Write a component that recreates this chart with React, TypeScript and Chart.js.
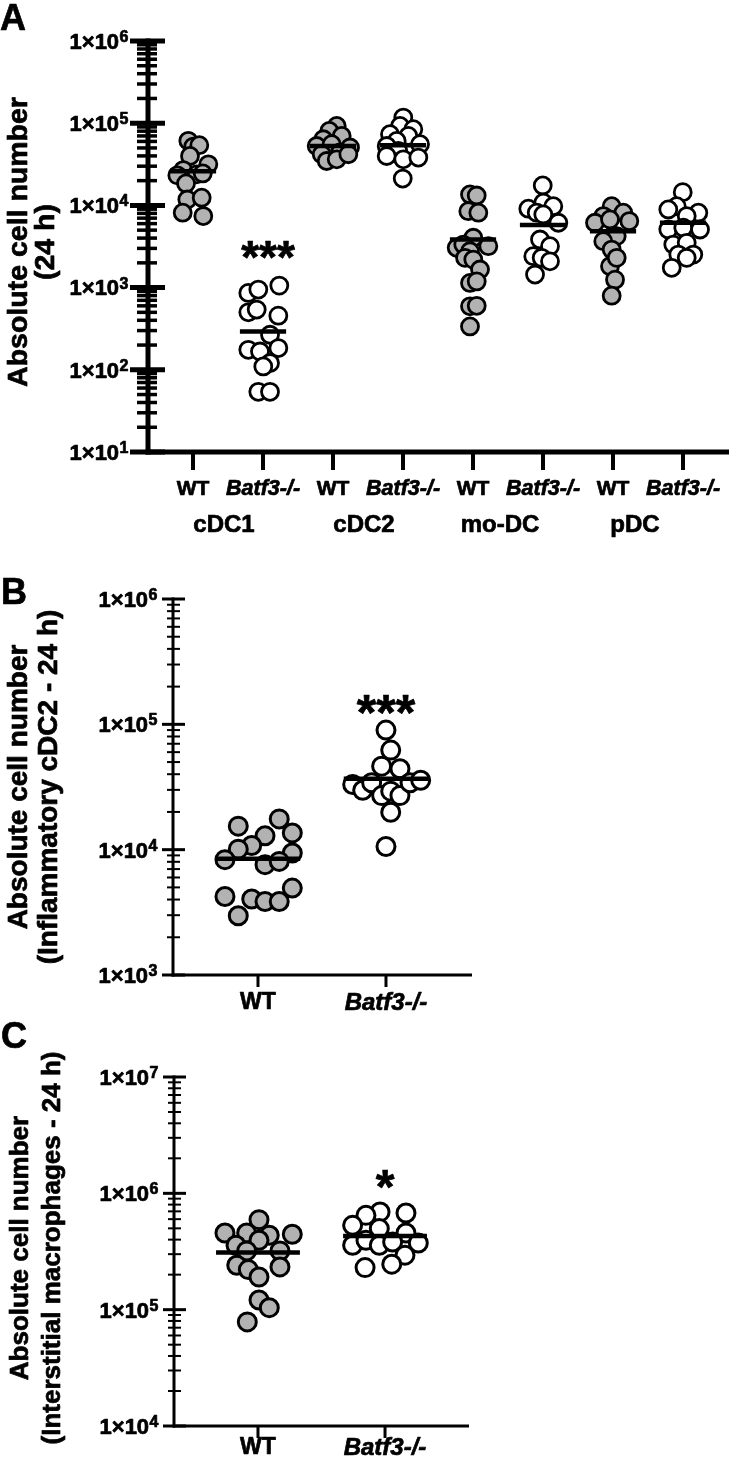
import React, { useEffect, useRef } from "react";
import { Chart, registerables } from "chart.js";
Chart.register(...registerables);

// ================= DATA =================
// Panel A
const A_CATEGORIES = ["WT", "Batf3-/-", "WT", "Batf3-/-", "WT", "Batf3-/-", "WT", "Batf3-/-"];
const A_GROUPS = ["cDC1", "cDC2", "mo-DC", "pDC"];
const A_Y_EXPONENTS = [1, 2, 3, 4, 5, 6];
const A_SIGNIFICANCE = ["", "***", "", "", "", "", "", ""];

const A_CDC1_WT = [61000, 52000, 54000, 40000, 31600, 26900, 23200, 23900, 24500, 18500, 11800, 12400, 8150, 7420];
const A_CDC1_WT_JITTER = [-0.067, 0.004, 0.09, -0.043, 0.219, -0.139, -0.224, 0.053, 0.139, -0.1, -0.081, 0.124, -0.147, 0.147];
const A_CDC1_KO = [861, 946, 1057, 500, 540, 456, 267, 175, 184, 167, 121, 110, 54, 54];
const A_CDC1_KO_JITTER = [-0.21, -0.067, 0.233, -0.21, -0.09, 0.219, 0.1, -0.21, 0.219, -0.043, 0.1, 0.004, -0.067, 0.1];
const A_CDC2_WT = [92700, 80500, 63800, 70000, 52800, 50600, 55500, 41900, 44000, 34700, 36400, 41900];
const A_CDC2_WT_JITTER = [0.053, -0.053, -0.139, 0.124, -0.233, 0.243, -0.019, -0.161, 0.1, -0.09, 0.053, 0.219];
const A_CDC2_KO = [117000, 92700, 84500, 73500, 70000, 60800, 52800, 55500, 45900, 39900, 36400, 38200, 21200];
const A_CDC2_KO_JITTER = [0.004, -0.043, 0.147, -0.186, 0.076, -0.09, -0.233, 0.243, -0.067, -0.233, 0.004, 0.219, -0.004];
const A_MODC_WT = [13600, 13200, 8500, 8150, 4040, 3050, 3340, 3190, 2770, 2300, 2190, 1660, 1140, 1190, 592, 600, 337];
const A_MODC_WT_JITTER = [-0.043, 0.053, -0.067, 0.076, 0.004, -0.233, -0.139, 0.219, -0.043, -0.114, 0.004, 0.1, -0.043, 0.053, -0.043, 0.053, -0.043];
const A_MODC_KO = [17500, 9120, 10800, 9790, 8150, 7760, 6150, 3850, 3190, 2410, 2300, 2090, 1440];
const A_MODC_KO_JITTER = [-0.004, -0.21, 0.004, 0.147, -0.09, 0.004, 0.219, -0.043, 0.1, -0.139, -0.019, 0.1, -0.114];
const A_PDC_WT = [9790, 8150, 7420, 6440, 6150, 6750, 4230, 3670, 2900, 1820, 1250, 798, 2300];
const A_PDC_WT_JITTER = [-0.019, 0.147, -0.139, 0.233, -0.257, -0.043, 0.053, -0.139, -0.019, -0.043, 0.029, -0.019, 0.053];
const A_PDC_KO = [14500, 9790, 8930, 8150, 7420, 5090, 5350, 5090, 3340, 3510, 2520, 2520, 2300, 1740];
const A_PDC_KO_JITTER = [-0.004, -0.09, -0.21, 0.219, 0.053, -0.21, 0.004, 0.243, -0.139, 0.053, -0.067, 0.147, 0.053, -0.161];
const A_MEDIANS = [26000, 293, 52800, 54000, 3850, 5760, 4860, 6150];

// Panel B
const B_CATEGORIES = ["WT", "Batf3-/-"];
const B_Y_EXPONENTS = [3, 4, 5, 6];
const B_SIGNIFICANCE = ["", "***"];
const B_WT = [15400, 17600, 13600, 12900, 10800, 10100, 9410, 8320, 7590, 8060, 4230, 4040, 3860, 3860, 4940, 2970];
const B_WT_JITTER = [-0.154, 0.166, 0.268, 0.055, -0.049, -0.154, 0.268, -0.258, 0.055, 0.166, -0.258, -0.049, 0.055, 0.166, 0.268, -0.154];
const B_KO = [90000, 62300, 46400, 44200, 33100, 29800, 34200, 27000, 29300, 27000, 34200, 35800, 19900, 10600];
const B_KO_JITTER = [0, 0.037, -0.034, 0.109, -0.26, -0.182, -0.112, -0.034, 0.037, 0.109, 0.188, 0.271, 0.037, 0];
const B_MEDIANS = [8470, 36800];

// Panel C
const C_CATEGORIES = ["WT", "Batf3-/-"];
const C_Y_EXPONENTS = [4, 5, 6, 7];
const C_SIGNIFICANCE = ["", "*"];
const C_WT = [594000, 456000, 456000, 436000, 445000, 358000, 395000, 320000, 320000, 241000, 233000, 221000, 191000, 121000, 104000, 78500];
const C_WT_JITTER = [0.008, -0.26, -0.089, 0.089, 0.27, -0.173, 0.008, -0.089, 0.173, -0.167, 0.173, -0.076, 0.008, 0.008, 0.089, -0.084];
const C_KO = [692000, 647000, 678000, 531000, 498000, 456000, 358000, 395000, 358000, 382000, 374000, 294000, 246000, 230000];
const C_KO_JITTER = [-0.039, -0.15, 0.165, -0.255, -0.045, 0.165, -0.255, -0.15, -0.045, 0.06, 0.262, 0.157, 0.053, -0.157];
const C_MEDIANS = [310000, 430000];

// ================= STYLE / LAYOUT =================
const FONT = '"Liberation Sans", Arial, Helvetica, sans-serif';
const GRAY = "#b2b2b2";
const WHITE = "#ffffff";
const MEDIAN_HALF = 0.33;
const TEXT_STROKE = 0.7;

type Spec = {
  id: string;
  top: number;
  height: number;
  area: { left: number; right: number; top: number; bottom: number };
  xMin: number;
  xMax: number;
  yMin: number;
  yMax: number;
  exps: number[];
  categories: string[];
  series: { values: number[]; jitter: number[]; fill: string }[];
  medians: number[];
  signif: string[];
  sigStyle: { size: number; dx: number; baseY: number };
  radius: number;
  pointBorder: number;
  axisW: number;
  major: { l: number; r: number; w: number };
  minor: { l: number; r: number; w: number };
  xTick: { len: number; w: number };
  yLabel: { size: number; sup: number; gap: number };
  xLabel: { wtSize: number; koSize: number; centerY: number };
  groups?: { labels: string[]; xs: number[]; size: number; centerY: number };
  title: { lines: string[]; baselines: number[]; centerY: number; size: number };
  letter: { text: string; x: number; baseline: number; size: number };
};

const SPEC_A: Spec = {
  id: "A",
  top: 0,
  height: 545,
  area: { left: 148, right: 729, top: 41, bottom: 452 },
  xMin: -0.643,
  xMax: 7.657,
  yMin: 1e1,
  yMax: 1e6,
  exps: A_Y_EXPONENTS,
  categories: A_CATEGORIES,
  series: [
    { values: A_CDC1_WT, jitter: A_CDC1_WT_JITTER, fill: GRAY },
    { values: A_CDC1_KO, jitter: A_CDC1_KO_JITTER, fill: WHITE },
    { values: A_CDC2_WT, jitter: A_CDC2_WT_JITTER, fill: GRAY },
    { values: A_CDC2_KO, jitter: A_CDC2_KO_JITTER, fill: WHITE },
    { values: A_MODC_WT, jitter: A_MODC_WT_JITTER, fill: GRAY },
    { values: A_MODC_KO, jitter: A_MODC_KO_JITTER, fill: WHITE },
    { values: A_PDC_WT, jitter: A_PDC_WT_JITTER, fill: GRAY },
    { values: A_PDC_KO, jitter: A_PDC_KO_JITTER, fill: WHITE },
  ],
  medians: A_MEDIANS,
  signif: A_SIGNIFICANCE,
  sigStyle: { size: 46, dx: 5, baseY: 273 },
  radius: 8.5,
  pointBorder: 2.8,
  axisW: 5,
  major: { l: 18, r: 17, w: 5 },
  minor: { l: 11, r: 9, w: 3.5 },
  xTick: { len: 18, w: 4 },
  yLabel: { size: 22, sup: 16, gap: 20 },
  xLabel: { wtSize: 21, koSize: 21.5, centerY: 487 },
  groups: { labels: A_GROUPS, xs: [224, 364, 500, 635], size: 24, centerY: 523 },
  title: { lines: ["Absolute cell number", "(24 h)"], baselines: [27, 54], centerY: 242, size: 28.5 },
  letter: { text: "A", x: 0, baseline: 30, size: 36 },
};

const SPEC_B: Spec = {
  id: "B",
  top: 545,
  height: 475,
  area: { left: 173, right: 472, top: 599, bottom: 975 },
  xMin: -0.664,
  xMax: 1.672,
  yMin: 1e3,
  yMax: 1e6,
  exps: B_Y_EXPONENTS,
  categories: B_CATEGORIES,
  series: [
    { values: B_WT, jitter: B_WT_JITTER, fill: GRAY },
    { values: B_KO, jitter: B_KO_JITTER, fill: WHITE },
  ],
  medians: B_MEDIANS,
  signif: B_SIGNIFICANCE,
  sigStyle: { size: 50, dx: 0, baseY: 730 },
  radius: 9,
  pointBorder: 3,
  axisW: 3,
  major: { l: 11, r: 12, w: 3 },
  minor: { l: 6, r: 7, w: 2 },
  xTick: { len: 12, w: 3 },
  yLabel: { size: 22, sup: 16, gap: 16 },
  xLabel: { wtSize: 23, koSize: 24, centerY: 1001 },
  title: { lines: ["Absolute cell number", "(Inflammatory cDC2 - 24 h)"], baselines: [27, 57], centerY: 787, size: 28 },
  letter: { text: "B", x: 1, baseline: 604, size: 36 },
};

const SPEC_C: Spec = {
  id: "C",
  top: 1020,
  height: 443,
  area: { left: 174, right: 469, top: 1077, bottom: 1426 },
  xMin: -0.661,
  xMax: 1.661,
  yMin: 1e4,
  yMax: 1e7,
  exps: C_Y_EXPONENTS,
  categories: C_CATEGORIES,
  series: [
    { values: C_WT, jitter: C_WT_JITTER, fill: GRAY },
    { values: C_KO, jitter: C_KO_JITTER, fill: WHITE },
  ],
  medians: C_MEDIANS,
  signif: C_SIGNIFICANCE,
  sigStyle: { size: 48, dx: 0, baseY: 1203 },
  radius: 9,
  pointBorder: 3,
  axisW: 3,
  major: { l: 11, r: 12, w: 3 },
  minor: { l: 6, r: 7, w: 2 },
  xTick: { len: 12, w: 3 },
  yLabel: { size: 22, sup: 16, gap: 16 },
  xLabel: { wtSize: 23, koSize: 24, centerY: 1446 },
  title: { lines: ["Absolute cell number", "(Interstitial macrophages - 24 h)"], baselines: [28, 60], centerY: 1248, size: 26 },
  letter: { text: "C", x: 1, baseline: 1048, size: 36 },
};

// ================= DRAWING =================
function boldText(ctx: CanvasRenderingContext2D, t: string, x: number, y: number) {
  ctx.fillText(t, x, y);
  ctx.strokeText(t, x, y);
}

function makePlugin(spec: Spec) {
  return {
    id: "decor" + spec.id,
    beforeDatasetsDraw(chart: any) {
      const ctx: CanvasRenderingContext2D = chart.ctx;
      const xs = chart.scales.x;
      const ys = chart.scales.y;
      const ax = chart.chartArea.left;
      const yTop = ys.getPixelForValue(spec.yMax);
      const yBot = ys.getPixelForValue(spec.yMin);
      ctx.save();
      ctx.strokeStyle = "#000";
      ctx.lineCap = "butt";
      // y axis
      ctx.lineWidth = spec.axisW;
      ctx.beginPath();
      ctx.moveTo(ax, yTop - spec.major.w / 2);
      ctx.lineTo(ax, yBot + spec.axisW / 2);
      ctx.stroke();
      // x axis
      ctx.beginPath();
      ctx.moveTo(ax - spec.axisW / 2, yBot);
      ctx.lineTo(chart.chartArea.right, yBot);
      ctx.stroke();
      // minor ticks
      ctx.lineWidth = spec.minor.w;
      for (let k = spec.exps[0]; k < spec.exps[spec.exps.length - 1]; k++) {
        for (let m = 2; m <= 9; m++) {
          const y = ys.getPixelForValue(m * Math.pow(10, k));
          ctx.beginPath();
          ctx.moveTo(ax - spec.minor.l, y);
          ctx.lineTo(ax + spec.minor.r, y);
          ctx.stroke();
        }
      }
      // major ticks
      ctx.lineWidth = spec.major.w;
      spec.exps.forEach((e) => {
        const y = ys.getPixelForValue(Math.pow(10, e));
        ctx.beginPath();
        ctx.moveTo(ax - spec.major.l, y);
        ctx.lineTo(ax + spec.major.r, y);
        ctx.stroke();
      });
      // x ticks
      ctx.lineWidth = spec.xTick.w;
      spec.categories.forEach((_, i) => {
        const x = xs.getPixelForValue(i);
        ctx.beginPath();
        ctx.moveTo(x, yBot);
        ctx.lineTo(x, yBot + spec.xTick.len);
        ctx.stroke();
      });
      ctx.restore();
    },
    afterDraw(chart: any) {
      const ctx: CanvasRenderingContext2D = chart.ctx;
      const xs = chart.scales.x;
      const ys = chart.scales.y;
      const ax = chart.chartArea.left;
      const off = spec.top;
      ctx.save();
      ctx.fillStyle = "#000";
      ctx.strokeStyle = "#000";
      ctx.lineWidth = TEXT_STROKE;
      ctx.lineJoin = "round";
      ctx.textBaseline = "alphabetic";
      // y tick labels 1x10^n
      const yl = spec.yLabel;
      spec.exps.forEach((e) => {
        const y = ys.getPixelForValue(Math.pow(10, e));
        const base = "1×10";
        const ex = String(e);
        ctx.font = `bold ${yl.size}px ${FONT}`;
        const bw = ctx.measureText(base).width;
        ctx.font = `bold ${yl.sup}px ${FONT}`;
        const ew = ctx.measureText(ex).width;
        const x0 = ax - yl.gap - bw - ew;
        ctx.textAlign = "left";
        ctx.font = `bold ${yl.size}px ${FONT}`;
        boldText(ctx, base, x0, y + yl.size * 0.358);
        ctx.font = `bold ${yl.sup}px ${FONT}`;
        boldText(ctx, ex, x0 + bw + 0.5, y + 1);
      });
      // x tick labels
      ctx.textAlign = "center";
      spec.categories.forEach((c, i) => {
        const x = xs.getPixelForValue(i);
        const isWT = c === "WT";
        const size = isWT ? spec.xLabel.wtSize : spec.xLabel.koSize;
        ctx.font = `${isWT ? "" : "italic "}bold ${size}px ${FONT}`;
        boldText(ctx, c, x, spec.xLabel.centerY - off + size * 0.358);
      });
      // group labels
      if (spec.groups) {
        const g = spec.groups;
        ctx.font = `bold ${g.size}px ${FONT}`;
        g.labels.forEach((t, i) => {
          boldText(ctx, t, g.xs[i], g.centerY - off + g.size * 0.358);
        });
      }
      // significance
      ctx.font = `bold ${spec.sigStyle.size}px ${FONT}`;
      spec.signif.forEach((s, i) => {
        if (!s) return;
        boldText(ctx, s, xs.getPixelForValue(i) + spec.sigStyle.dx, spec.sigStyle.baseY - off);
      });
      // titles
      ctx.font = `bold ${spec.title.size}px ${FONT}`;
      spec.title.lines.forEach((t, i) => {
        ctx.save();
        ctx.translate(spec.title.baselines[i], spec.title.centerY - off);
        ctx.rotate(-Math.PI / 2);
        ctx.textAlign = "center";
        boldText(ctx, t, 0, 0);
        ctx.restore();
      });
      // panel letter
      ctx.textAlign = "left";
      ctx.font = `bold ${spec.letter.size}px ${FONT}`;
      boldText(ctx, spec.letter.text, spec.letter.x, spec.letter.baseline - off);
      ctx.restore();
    },
  };
}

function buildDatasets(spec: Spec) {
  const ds: any[] = [];
  spec.series.forEach((s, i) => {
    ds.push({
      type: "scatter",
      data: s.values.map((v, j) => ({ x: i + s.jitter[j], y: v })),
      backgroundColor: s.fill,
      borderColor: "#000",
      borderWidth: spec.pointBorder,
      pointRadius: spec.radius,
      pointHoverRadius: spec.radius,
      order: 1,
      clip: false,
    });
  });
  spec.medians.forEach((m, i) => {
    ds.push({
      type: "line",
      data: [
        { x: i - MEDIAN_HALF, y: m },
        { x: i + MEDIAN_HALF, y: m },
      ],
      borderColor: "#000",
      borderWidth: 4.5,
      pointRadius: 0,
      showLine: true,
      fill: false,
      order: 0,
      clip: false,
      borderCapStyle: "butt",
    });
  });
  return ds;
}

function Panel({ spec }: { spec: Spec }) {
  const ref = useRef<HTMLCanvasElement>(null);
  useEffect(() => {
    const W = 743;
    const chart = new Chart(ref.current as HTMLCanvasElement, {
      type: "scatter",
      data: { datasets: buildDatasets(spec) },
      options: {
        animation: false,
        responsive: false,
        maintainAspectRatio: false,
        devicePixelRatio: 1,
        events: [],
        layout: {
          padding: {
            left: spec.area.left,
            right: W - spec.area.right,
            top: spec.area.top - spec.top,
            bottom: spec.top + spec.height - spec.area.bottom,
          },
        },
        plugins: { legend: { display: false }, tooltip: { enabled: false } },
        scales: {
          x: { type: "linear", min: spec.xMin, max: spec.xMax, display: false },
          y: { type: "logarithmic", min: spec.yMin, max: spec.yMax, display: false },
        },
      } as any,
      plugins: [makePlugin(spec) as any],
    });
    return () => chart.destroy();
  }, []);
  return (
    <canvas
      ref={ref}
      width={743}
      height={spec.height}
      style={{ position: "absolute", left: 0, top: spec.top, width: 743, height: spec.height, display: "block" }}
    />
  );
}

export default function App() {
  return (
    <div style={{ position: "absolute", left: 0, top: 0, width: 743, height: 1463, background: "#fff", overflow: "hidden" }}>
      <Panel spec={SPEC_A} />
      <Panel spec={SPEC_B} />
      <Panel spec={SPEC_C} />
    </div>
  );
}
